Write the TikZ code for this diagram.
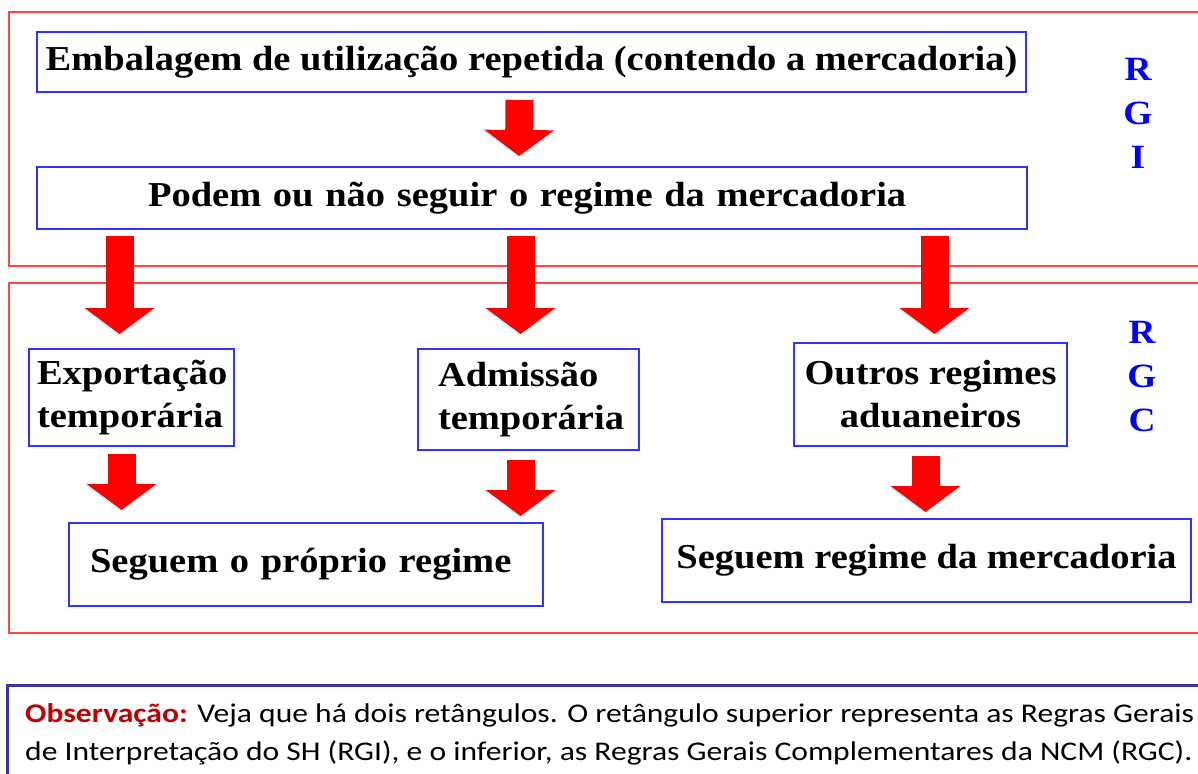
\documentclass[tikz,border=0pt]{standalone}
\usepackage{fontspec}
\setmainfont{Liberation Serif}[FakeStretch=1.1]
\newfontfamily\notefont{Carlito}[FakeStretch=1.17]
\usetikzlibrary{arrows.meta,calc}
\definecolor{frame}{RGB}{255,70,70}
\definecolor{boxblue}{RGB}{50,50,255}
\definecolor{notebar}{RGB}{64,50,160}
\definecolor{obsred}{RGB}{192,0,0}

\begin{document}
\begin{tikzpicture}[x=1pt,y=-1pt,
    box/.style={draw=boxblue,line width=2pt,inner sep=0pt,font=\fontsize{35}{43}\selectfont\bfseries},
    bigarrow/.style={red,line width=28pt,-{Triangle[width=70pt,length=26pt,line width=0pt]}},
    regra/.style={text=blue,align=center,font=\fontsize{34}{44}\selectfont\bfseries}]
  \useasboundingbox (0,0) rectangle (1198,773);
  % the two frames
  \draw[frame,line width=2pt] (9,12) rectangle (1215,266);
  \draw[frame,line width=2pt] (9,283) rectangle (1215,633);

  \node[box,minimum width=989pt,minimum height=60pt] (emb) at (531.5,62) {Embalagem de utilização repetida (contendo a mercadoria)};
  \node[box,minimum width=990pt,minimum height=62pt,text width=768pt,align=left] (podem) at (532,198) {Podem ou não seguir o regime da mercadoria};
  \node[regra] (rgi) at (1138,113) {R\\G\\I};

  \node[box,minimum width=205pt,minimum height=97pt,text width=189pt,align=left] (expo) at (131.5,397.5) {Exportação\\temporária};
  \node[box,minimum width=221pt,minimum height=101pt,text width=181pt,align=left] (admis) at (528.5,399.5) {Admissão\\temporária};
  \node[box,minimum width=273pt,minimum height=103pt,align=center] (outros) at (930.5,394.5) {Outros regimes\\aduaneiros};
  \node[box,minimum width=474pt,minimum height=83pt,text width=432pt,align=left] (proprio) at (306,564.5) {Seguem o próprio regime};
  \node[box,minimum width=529pt,minimum height=83pt] (merc) at (926.5,560.5) {Seguem regime da mercadoria};
  \node[regra] (rgc) at (1142,377) {R\\G\\C};

  % red block arrows
  \draw[bigarrow] ($(emb.south)+(-12,7)$) -- ($(podem.north)+(-13,-10)$);
  \draw[bigarrow] ($(expo.north |- podem.south)+(-12,6)$) -- ($(expo.north)+(-12,-14)$);
  \draw[bigarrow] ($(admis.north |- podem.south)+(-8,6)$) -- ($(admis.north)+(-8,-14)$);
  \draw[bigarrow] ($(outros.north |- podem.south)+(4,6)$) -- ($(outros.north)+(4,-8)$);
  \draw[bigarrow] ($(expo.south)+(-10,7)$) -- ($(expo.south |- proprio.north)+(-10,-12)$);
  \draw[bigarrow] ($(admis.south)+(-8,9)$) -- ($(admis.south |- proprio.north)+(-8,-6)$);
  \draw[bigarrow] ($(outros.south)+(-5,9)$) -- ($(outros.south |- merc.north)+(-5,-6)$);

  % note
  \draw[notebar,line width=3pt] (7,685) rectangle (1215,800);
  \node[anchor=base west,align=left,inner sep=0pt,font=\notefont\fontsize{27}{38}\selectfont] (nota) at (25,760) {\textcolor{obsred}{\bfseries Observação:} Veja que há dois retângulos. O retângulo superior representa as Regras Gerais\\de Interpretação do SH (RGI), e o inferior, as Regras Gerais Complementares da NCM (RGC).};
\end{tikzpicture}
\end{document}
